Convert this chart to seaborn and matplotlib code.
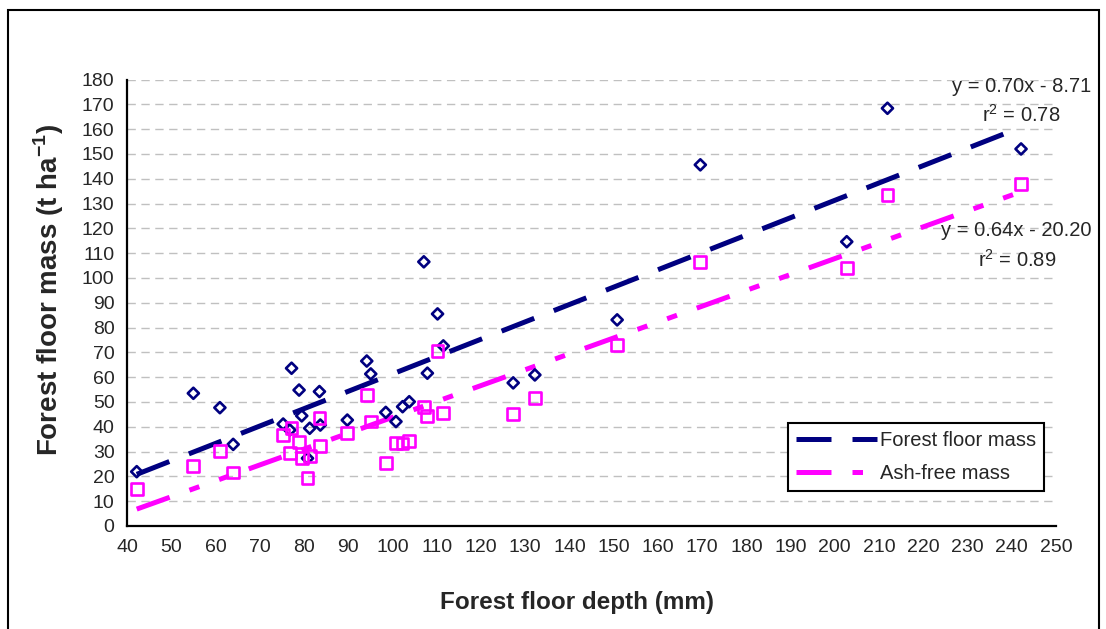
# forest floor mass vs depth

import matplotlib.pyplot as plt
import matplotlib
import numpy as np
import pandas as pd
import seaborn as sns

depth = [42.2, 55.0, 61.0, 64.0, 75.3, 76.8, 77.2, 78.9, 79.5, 80.8, 81.3, 83.5, 83.7,
         89.8, 94.2, 95.1, 98.5, 100.8, 102.3, 103.8, 107.1, 107.9, 110.2, 111.5,
         127.3, 132.2, 150.8, 169.6, 202.7, 211.9, 242.1]
ff_mass = [21.9, 53.5, 47.7, 32.9, 41.1, 38.7, 63.6, 54.8, 44.4, 27.3, 39.4, 54.2, 40.7,
           42.7, 66.5, 61.3, 45.8, 42.1, 48.1, 50.1, 106.5, 61.6, 85.5, 72.6,
           57.7, 60.9, 83.1, 145.6, 114.6, 168.4, 152.0]
ash_free = [14.8, 24.3, 30.2, 21.6, 36.7, 29.3, 39.6, 33.8, 27.5, 19.5, 28.2, 43.4, 32.4,
            37.4, 52.8, 42.1, 25.5, 33.6, 33.3, 34.3, 48.1, 44.5, 70.6, 45.4,
            45.2, 51.6, 73.0, 106.3, 104.1, 133.5, 138.0]

series = ['Forest floor mass', 'Ash-free mass']
slopes = [0.70, 0.64]
intercepts = [-8.71, -20.20]
r2 = [0.78, 0.89]
colors = {'Forest floor mass': '#000080', 'Ash-free mass': '#FF00FF'}

sns.set_style('white')
plt.rcParams['font.family'] = ['Liberation Sans', 'DejaVu Sans']
plt.rcParams['mathtext.fontset'] = 'custom'
plt.rcParams['mathtext.rm'] = 'Liberation Sans'
plt.rcParams['mathtext.bf'] = 'Liberation Sans:bold'

pts = pd.DataFrame({
    'depth': depth * 2,
    'mass': ff_mass + ash_free,
    'series': [series[0]] * len(depth) + [series[1]] * len(depth),
})

xs = [min(depth), max(depth)]
fit = pd.DataFrame({
    'depth': xs * 2,
    'mass': [slopes[0] * x + intercepts[0] for x in xs] + [slopes[1] * x + intercepts[1] for x in xs],
    'series': [series[0]] * 2 + [series[1]] * 2,
})

f = plt.figure(figsize=(11.06, 6.29), dpi=100)
ax = f.add_axes([127 / 1106, 1 - 526 / 629, 929 / 1106, 446.5 / 629])

ax.yaxis.grid(True, color='#c0c0c0', linestyle=(0, (6, 4)), linewidth=1)
ax.set_axisbelow(True)

sns.lineplot(data=fit, x='depth', y='mass', hue='series', style='series',
             palette=colors, dashes={series[0]: (7, 4.2), series[1]: (7, 4.2, 2.1, 4.2, 2.1, 4.2)},
             linewidth=3.6, ax=ax)
handles, labels = ax.get_legend_handles_labels()

sns.scatterplot(data=pts[pts.series == series[0]], x='depth', y='mass', marker='D', s=32,
                facecolor='none', edgecolor=colors[series[0]], linewidth=1.9, legend=False, ax=ax, zorder=3)
sns.scatterplot(data=pts[pts.series == series[1]], x='depth', y='mass', marker='s', s=72,
                facecolor='none', edgecolor=colors[series[1]], linewidth=1.9, legend=False, ax=ax, zorder=3)

ax.set_xlim(40, 250)
ax.set_ylim(0, 180)
ax.set_xticks(np.arange(40, 251, 10))
ax.set_yticks(np.arange(0, 181, 10))
ax.tick_params(direction='out', length=5, width=1.5, labelsize=14, color='black', pad=4)
sns.despine(ax=ax)
for s in ['left', 'bottom']:
    ax.spines[s].set_linewidth(1.6)
    ax.spines[s].set_color('black')

ax.set_xlabel('Forest floor depth (mm)', fontsize=17.5, fontweight='bold')
ax.set_ylabel(r'Forest floor mass (t ha$^{\mathbf{-1}}$)', fontsize=20, fontweight='bold')
ax.xaxis.set_label_coords(0.4844, -0.145)
ax.yaxis.set_label_coords(-0.066, 0.5286)

# equations
ax.text(258, 177, 'y = %.2fx - %.2f' % (slopes[0], -intercepts[0]), ha='right', va='center', fontsize=14.5, clip_on=False)
ax.text(251, 165.7, r'r$^{2}$ = %.2f' % r2[0], ha='right', va='center', fontsize=14.5, clip_on=False)
ax.text(258, 119, 'y = %.2fx - %.2f' % (slopes[1], -intercepts[1]), ha='right', va='center', fontsize=14.5, clip_on=False)
ax.text(250, 107.3, r'r$^{2}$ = %.2f' % r2[1], ha='right', va='center', fontsize=14.5, clip_on=False)

leg = ax.legend(handles, labels, loc='upper left', bbox_to_anchor=(0.7115, 0.2307), fontsize=14.5,
                handlelength=4.0, handletextpad=0.15, labelspacing=0.7, borderpad=0.4,
                borderaxespad=0, fancybox=False, framealpha=1)
leg.get_frame().set_edgecolor('black')
leg.get_frame().set_linewidth(1.5)

f.patches.append(matplotlib.patches.Rectangle((8 / 1106, -0.05), 1091 / 1106, 1.05 - 10 / 629,
                                              transform=f.transFigure, fill=False, edgecolor='black', linewidth=1.5))

plt.savefig('out.png', dpi=100)
